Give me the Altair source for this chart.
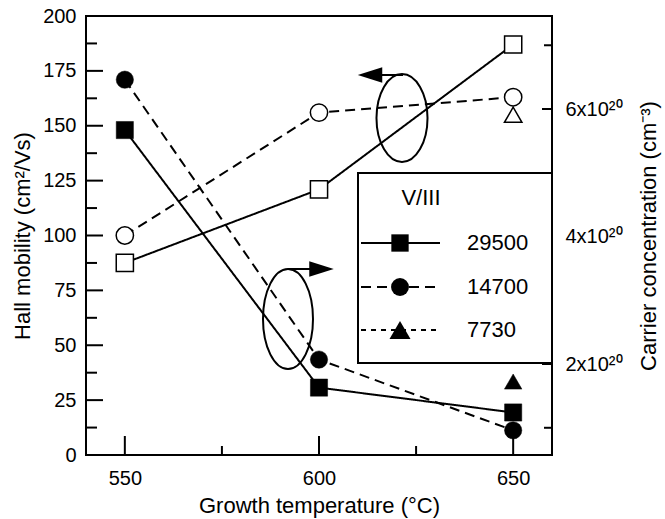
import altair as alt
import pandas as pd

# ---------------- data ----------------
temps = [550, 600, 650]
temps_7730 = [650]
series_names = ["29500", "14700", "7730"]

# Hall mobility (open symbols, left axis), cm^2/Vs
mob_29500 = [87.5, 121, 187]
mob_14700 = [100, 156, 163]
mob_7730 = [155]

# Carrier concentration (filled symbols, right axis), units of 1e20 cm^-3
conc_29500 = [5.67, 1.63, 1.24]
conc_14700 = [6.46, 2.07, 0.96]
conc_7730 = [1.725]

x_major_ticks = [550, 600, 650]
x_minor_ticks = [575, 625]
mob_major_ticks = [0, 25, 50, 75, 100, 125, 150, 175, 200]
mob_minor_ticks = [12.5, 37.5, 62.5, 87.5, 112.5, 137.5, 162.5, 187.5]
conc_label_ticks = [2, 4, 6]
conc_major_ticks = [2, 6]      # tick at 4 lies behind the legend box
conc_minor_ticks = [1, 7]      # ticks at 3 and 5 lie behind the legend box

FONT = "Liberation Sans"
W, H = 466, 439
X_DOM = [540, 660]
MOB_DOM = [0, 200]
CONC_DOM = [0.573, 7.459]


def long(ts, vals, name):
    return pd.DataFrame({"t": ts, "v": vals, "series": name})


mob_df = pd.concat([long(temps, mob_29500, "29500"),
                    long(temps, mob_14700, "14700"),
                    long(temps_7730, mob_7730, "7730")], ignore_index=True)
conc_df = pd.concat([long(temps, conc_29500, "29500"),
                     long(temps, conc_14700, "14700"),
                     long(temps_7730, conc_7730, "7730")], ignore_index=True)

xs = alt.Scale(domain=X_DOM, nice=False, zero=False)
ys_mob = alt.Scale(domain=MOB_DOM, nice=False, zero=False)
ys_conc = alt.Scale(domain=CONC_DOM, nice=False, zero=False)

shape_sc = alt.Scale(domain=series_names, range=["square", "circle", "triangle-up"])
dash_sc = alt.Scale(domain=series_names, range=[[1, 0], [10, 6], [5, 5]])
size_sc = alt.Scale(domain=series_names, range=[295, 305, 441])

# ---------------- data layers ----------------
lines_mob = alt.Chart(mob_df[mob_df.series != "7730"]).mark_line(
    color="black", strokeWidth=2
).encode(
    x=alt.X("t:Q", scale=xs, axis=None),
    y=alt.Y("v:Q", scale=ys_mob, axis=None),
    strokeDash=alt.StrokeDash("series:N", scale=dash_sc, legend=None),
)

lines_conc = alt.Chart(conc_df[conc_df.series != "7730"]).mark_line(
    color="black", strokeWidth=2
).encode(
    x=alt.X("t:Q", scale=xs, axis=None),
    y=alt.Y("v:Q", scale=ys_conc, axis=None),
    strokeDash=alt.StrokeDash("series:N", scale=dash_sc, legend=None),
)

pts_mob = alt.Chart(mob_df).mark_point(
    filled=True, fill="white", stroke="black", strokeWidth=1.5, opacity=1
).encode(
    x=alt.X("t:Q", scale=xs, axis=None),
    y=alt.Y("v:Q", scale=ys_mob, axis=None),
    shape=alt.Shape("series:N", scale=shape_sc, legend=None),
    size=alt.Size("series:N", scale=size_sc, legend=None),
)

pts_conc = alt.Chart(conc_df).mark_point(
    filled=True, fill="black", stroke="black", strokeWidth=0.5, opacity=1
).encode(
    x=alt.X("t:Q", scale=xs, axis=None),
    y=alt.Y("v:Q", scale=ys_conc, axis=None),
    shape=alt.Shape("series:N", scale=shape_sc, legend=None),
    size=alt.Size("series:N", scale=size_sc, legend=None),
)

# ---------------- axes: labels/titles via axes ----------------
common = dict(domain=False, grid=False, ticks=False, tickSize=0,
              labelFont=FONT, titleFont=FONT, labelColor="black",
              titleColor="black", labelFontSize=20, titleFontSize=22,
              titleFontWeight="normal")

x_label_axis = alt.Axis(orient="bottom", values=x_major_ticks,
                        labelPadding=13, title="Growth temperature (°C)",
                        titlePadding=7, format="d", **common)
y_label_axis = alt.Axis(orient="left", values=mob_major_ticks,
                        labelPadding=10, title="Hall mobility (cm²/Vs)",
                        titlePadding=8, format="d", **common)
r_label_axis = alt.Axis(orient="right", values=conc_label_ticks,
                        labelPadding=13, labelExpr="datum.value + 'x10²⁰'",
                        title="Carrier concentration (cm⁻³)", titleAngle=270,
                        titleBaseline="top", titlePadding=16, **common)

axis_mob = alt.Chart(mob_df).mark_point(opacity=0).encode(
    x=alt.X("t:Q", scale=xs, axis=x_label_axis),
    y=alt.Y("v:Q", scale=ys_mob, axis=y_label_axis),
)
axis_conc = alt.Chart(conc_df).mark_point(opacity=0).encode(
    x=alt.X("t:Q", scale=xs, axis=None),
    y=alt.Y("v:Q", scale=ys_conc, axis=r_label_axis),
)

# ---------------- inward tick marks (linear mapping identical to the scales) ----------------
one = pd.DataFrame({"a": [0]})


def lin(v, dom, r0, r1):
    return r0 + (v - dom[0]) / (dom[1] - dom[0]) * (r1 - r0)


tick_layers = []
for vals, length in [(x_major_ticks, 19), (x_minor_ticks, 9)]:
    for v in vals:
        px = lin(v, X_DOM, 0, W)
        tick_layers.append(alt.Chart(one).mark_rule(color="black", strokeWidth=2).encode(
            x=alt.value(px), y=alt.value(H - length), y2=alt.value(H)))
for vals, dom, x0, x1 in [(mob_major_ticks, MOB_DOM, 0, 17),
                          (mob_minor_ticks, MOB_DOM, 0, 11),
                          (conc_major_ticks, CONC_DOM, W - 10, W),
                          (conc_minor_ticks, CONC_DOM, W - 8, W)]:
    for v in vals:
        py = lin(v, dom, H, 0)
        tick_layers.append(alt.Chart(one).mark_rule(color="black", strokeWidth=2).encode(
            x=alt.value(x0), x2=alt.value(x1), y=alt.value(py)))

# ---------------- annotations: ellipses and arrows ----------------


def ellipse_path(a):
    k = 0.5523
    ka = round(k * a, 4)
    return (f"M0,-1 C{ka},-1 {a},-{k} {a},0 C{a},{k} {ka},1 0,1 "
            f"C-{ka},1 -{a},{k} -{a},0 C-{a},-{k} -{ka},-1 0,-1 Z")


ell_up = alt.Chart(one).mark_point(
    shape=ellipse_path(0.58), size=7744, filled=False, color="black",
    strokeWidth=2, opacity=1
).encode(x=alt.value(316), y=alt.value(102))

ell_low = alt.Chart(one).mark_point(
    shape=ellipse_path(0.5), size=10000, filled=False, color="black",
    strokeWidth=2, opacity=1
).encode(x=alt.value(202), y=alt.value(303))

arr_up_line = alt.Chart(one).mark_rule(color="black", strokeWidth=2).encode(
    x=alt.value(294), x2=alt.value(317), y=alt.value(59))
arr_up_head = alt.Chart(one).mark_point(
    shape="M1,-0.64 L-1,0 L1,0.64 Z", size=600, filled=True, color="black", opacity=1
).encode(x=alt.value(284), y=alt.value(59))

arr_low_line = alt.Chart(one).mark_rule(color="black", strokeWidth=2).encode(
    x=alt.value(202), x2=alt.value(226), y=alt.value(253))
arr_low_head = alt.Chart(one).mark_point(
    shape="M-1,-0.64 L1,0 L-1,0.64 Z", size=600, filled=True, color="black", opacity=1
).encode(x=alt.value(235.5), y=alt.value(253))

# ---------------- legend (drawn box) ----------------
legend_layers = [
    alt.Chart(one).mark_rect(fill="white", stroke="black", strokeWidth=2).encode(
        x=alt.value(272), x2=alt.value(466), y=alt.value(157), y2=alt.value(347)),
    alt.Chart(one).mark_text(text="V/III", font=FONT, fontSize=22, align="center",
                             baseline="middle", color="black").encode(
        x=alt.value(335), y=alt.value(182)),
]
row_y = [227, 271, 314]
row_shape = ["square", "circle", "triangle-up"]
row_dash = [[1, 0], [10, 6], [5, 5]]
row_size = [300, 320, 441]
for name, ry, shp, dsh, sz in zip(series_names, row_y, row_shape, row_dash, row_size):
    legend_layers.append(
        alt.Chart(one).mark_rule(color="black", strokeWidth=2, strokeDash=dsh).encode(
            x=alt.value(275), x2=alt.value(354), y=alt.value(ry)))
    legend_layers.append(
        alt.Chart(one).mark_point(shape=shp, size=sz, filled=True, color="black",
                                  opacity=1).encode(x=alt.value(314), y=alt.value(ry)))
    legend_layers.append(
        alt.Chart(one).mark_text(text=name, font=FONT, fontSize=22, align="left",
                                 baseline="middle", color="black").encode(
            x=alt.value(381), y=alt.value(ry)))

chart = alt.layer(
    axis_mob, axis_conc,
    *tick_layers,
    lines_mob, lines_conc,
    pts_mob, pts_conc,
    ell_up, ell_low, arr_up_line, arr_up_head, arr_low_line, arr_low_head,
    *legend_layers,
).resolve_scale(
    x="independent", y="independent"
).properties(
    width=W, height=H,
    autosize=alt.AutoSizeParams(type="none"),
    padding={"left": 86, "top": 16, "right": 113, "bottom": 64},
    background="white",
).configure_view(
    stroke="black", strokeWidth=2
)

chart.save("out.html", embed_options={"renderer": "svg", "actions": False})
